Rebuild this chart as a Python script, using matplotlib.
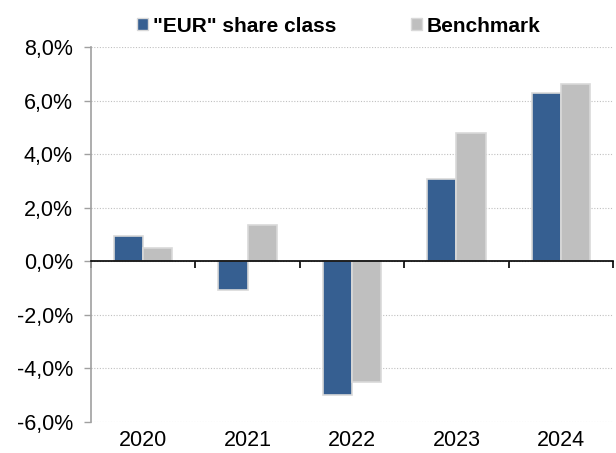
import matplotlib
matplotlib.use('Agg')

import matplotlib.pyplot as plt
import numpy as np
from matplotlib.patches import Patch
from matplotlib.transforms import blended_transform_factory

plt.rcParams['font.family'] = ['Liberation Sans', 'DejaVu Sans']

years = ['2020', '2021', '2022', '2023', '2024']
eurShare = [0.95, -1.09, -4.98, 3.07, 6.30]
benchmark = [0.48, 1.35, -4.52, 4.79, 6.62]
yTicks = [-6, -4, -2, 0, 2, 4, 6, 8]

BLUE = '#365f91'
GREY = '#bfbfbf'
EDGE = '#d9d9d9'
FS = 15.5

fig = plt.figure(figsize=(6.16, 4.53), dpi=100)
ax = fig.add_axes([0.1477, 0.0684, 0.8474, 0.8278])

x = np.arange(len(years))
width = 0.28

ax.bar(x - width / 2, eurShare, width, color=BLUE, edgecolor=EDGE, linewidth=1.2, zorder=3)
ax.bar(x + width / 2, benchmark, width, color=GREY, edgecolor=EDGE, linewidth=1.2, zorder=3)

ax.set_xlim(-0.5, len(years) - 0.5)
ax.set_ylim(-6, 8)
ax.set_yticks(yTicks)
ax.set_yticklabels([f'{v:.1f}%'.replace('.', ',') for v in yTicks], fontsize=FS)

# dotted grid
ax.grid(axis='y', linestyle=(0, (1, 1.5)), color='#c0c0c0', linewidth=0.8, zorder=0)

# axis at zero with ticks at category boundaries
ax.spines['bottom'].set_position(('data', 0))
ax.spines['bottom'].set_color('black')
ax.spines['bottom'].set_linewidth(1.2)
ax.spines['bottom'].set_zorder(4)
ax.spines['top'].set_visible(False)
ax.spines['right'].set_visible(False)
ax.spines['left'].set_color('#a0a0a0')
ax.spines['left'].set_linewidth(1.2)

ax.set_xticks(np.arange(len(years) + 1) - 0.5)
ax.tick_params(axis='x', direction='out', length=5, width=1.2, color='black', labelbottom=False)
ax.tick_params(axis='y', direction='out', length=5, width=1.0, color='#a0a0a0', pad=8)

# year labels sit just under the plot area, near the figure's bottom edge
trans = blended_transform_factory(ax.transData, ax.transAxes)
for i, yr in enumerate(years):
    ax.text(i, -0.022, yr, transform=trans, ha='center', va='top', fontsize=FS)

handles = [Patch(facecolor=BLUE, edgecolor=EDGE, label='"EUR" share class'),
           Patch(facecolor=GREY, edgecolor=EDGE, label='Benchmark')]
fig.legend(handles=handles, loc='center', bbox_to_anchor=(0.55, 0.942), ncol=2,
           frameon=False, prop={'weight': 'bold', 'size': 15},
           handlelength=0.5, handleheight=0.5, handletextpad=0.25, columnspacing=3.6,
           borderpad=0.2)

fig.savefig('out.png', dpi=100)
